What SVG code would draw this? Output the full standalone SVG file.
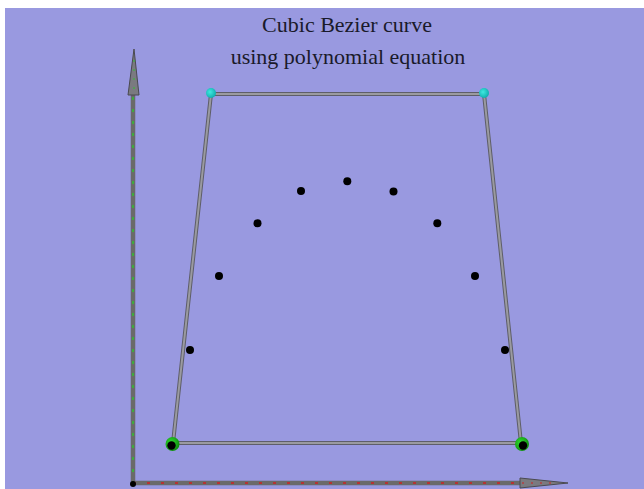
<svg xmlns="http://www.w3.org/2000/svg" width="644" height="489" viewBox="0 0 644 489">
<style>
.title{font-family:"Liberation Serif","Times New Roman",serif;font-size:22px;fill:#1a1a2a;text-anchor:middle}
.edge{stroke:#5e5e68;stroke-width:4;fill:none;stroke-linecap:round}
.edgeIn{stroke:#9a9aa0;stroke-width:2;fill:none;stroke-linecap:round}
.pt{fill:#000}
</style>
<defs>
<radialGradient id="cy" cx="0.4" cy="0.4" r="0.6"><stop offset="0" stop-color="#40e8e0"/><stop offset="1" stop-color="#10b0b0"/></radialGradient>
<radialGradient id="gr" cx="0.4" cy="0.4" r="0.6"><stop offset="0" stop-color="#30e030"/><stop offset="1" stop-color="#109010"/></radialGradient>
</defs>
<rect x="0" y="0" width="644" height="489" fill="#ffffff"/>
<rect x="5" y="8" width="639" height="481" fill="#9999e0"/>
<text class="title" x="347" y="32">Cubic Bezier curve</text>
<text class="title" x="348" y="64">using polynomial equation</text>
<g id="axes">
<g id="y-axis">
<line x1="133" y1="484" x2="133" y2="92" stroke="#6a6a6a" stroke-width="4.5"/>
<line x1="133" y1="484" x2="133" y2="92" stroke="#30c030" stroke-width="1.5" stroke-dasharray="3 9"/>
<polygon points="134,49 128,95 139,95" fill="#7a7a80" stroke="#4a4a50" stroke-width="1"/>
<line x1="134" y1="60" x2="134" y2="94" stroke="#30c030" stroke-width="1" stroke-dasharray="2 7"/>
</g>
<g id="x-axis">
<line x1="133" y1="483" x2="524" y2="483" stroke="#6a6a6a" stroke-width="4.5"/>
<line x1="133" y1="483" x2="524" y2="483" stroke="#d02020" stroke-width="1.5" stroke-dasharray="3 11"/>
<polygon points="568,483 520,478 520,488" fill="#7a7a80" stroke="#4a4a50" stroke-width="1"/>
<line x1="522" y1="483" x2="555" y2="483" stroke="#d02020" stroke-width="1" stroke-dasharray="2 7"/>
<circle cx="133" cy="484" r="3" fill="#000"/>
</g>
</g>
<g id="connectors">
<path class="edge" d="M211,94 L484,94 L521,443 L173,443 Z"/>
<path class="edgeIn" d="M211,94 L484,94 L521,443 L173,443 Z"/>
</g>
<g id="p0"><circle cx="172.5" cy="444" r="7" fill="url(#gr)"/><circle cx="171.5" cy="445.5" r="4.2" fill="#000"/></g>
<g id="p1"><circle cx="211" cy="93" r="5" fill="url(#cy)"/></g>
<g id="p2"><circle cx="484" cy="93" r="5" fill="url(#cy)"/></g>
<g id="p3"><circle cx="522" cy="444" r="7" fill="url(#gr)"/><circle cx="523" cy="445.5" r="4.2" fill="#000"/></g>
<g id="curve-points">
<circle class="pt" cx="190" cy="350" r="4"/>
<circle class="pt" cx="219" cy="276" r="4"/>
<circle class="pt" cx="257.5" cy="223.3" r="4"/>
<circle class="pt" cx="301" cy="191" r="4"/>
<circle class="pt" cx="347.3" cy="181.3" r="4"/>
<circle class="pt" cx="393.5" cy="191.5" r="4"/>
<circle class="pt" cx="437.3" cy="223.3" r="4"/>
<circle class="pt" cx="475" cy="276" r="4"/>
<circle class="pt" cx="505" cy="350" r="4"/>
</g>
</svg>
